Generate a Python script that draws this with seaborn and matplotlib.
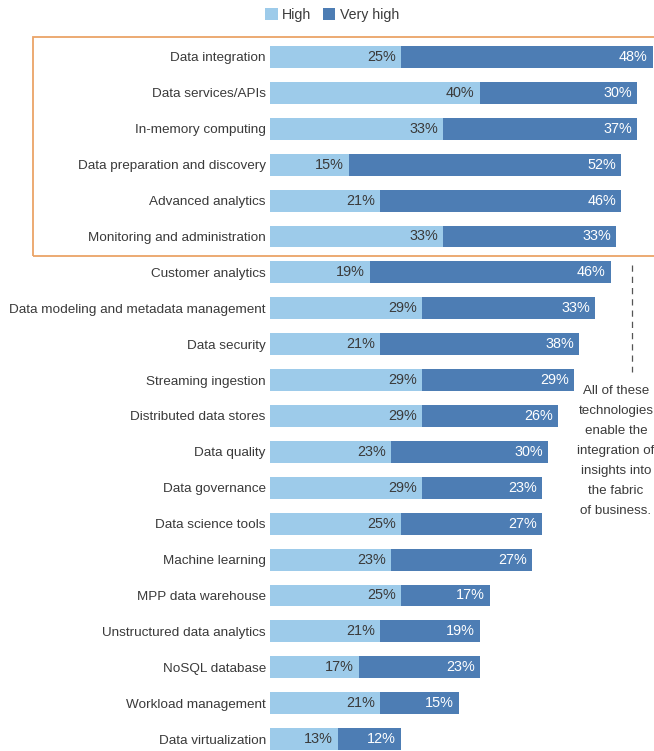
import matplotlib
matplotlib.use("Agg")
import matplotlib.pyplot as plt
from matplotlib.patches import Rectangle, Patch
from matplotlib.lines import Line2D
import seaborn as sns
import pandas as pd

categories = [
    "Data integration", "Data services/APIs", "In-memory computing",
    "Data preparation and discovery", "Advanced analytics",
    "Monitoring and administration", "Customer analytics",
    "Data modeling and metadata management", "Data security",
    "Streaming ingestion", "Distributed data stores", "Data quality",
    "Data governance", "Data science tools", "Machine learning",
    "MPP data warehouse", "Unstructured data analytics", "NoSQL database",
    "Workload management", "Data virtualization",
]
high = [25, 40, 33, 15, 21, 33, 19, 29, 21, 29, 29, 23, 29, 25, 23, 25, 21, 17, 21, 13]
very_high = [48, 30, 37, 52, 46, 33, 46, 33, 38, 29, 26, 30, 23, 27, 27, 17, 19, 23, 15, 12]
series_names = ["High", "Very high"]
note = "All of these\ntechnologies\nenable the\nintegration of\ninsights into\nthe fabric\nof business."

LIGHT = "#9dcbea"
DARK = "#4d7db4"
TEXT = "#3a3a3a"
ORANGE = "#eba467"

sns.set_theme(style="white")
plt.rcParams["font.family"] = ["Liberation Sans Narrow", "Liberation Sans", "DejaVu Sans"]

df = pd.DataFrame({"category": categories, "high": high, "very_high": very_high})
df["total"] = df["high"] + df["very_high"]

W, H = 654, 751
fig = plt.figure(figsize=(W / 100, H / 100), dpi=100)

# axes: bars start at x=270 px; 20 rows spaced ~35.9 px, first centre at 57 px
left_px, right_px = 270, 270 + 73 * 5.24
top_px = 57 - 35.9 / 2
bot_px = top_px + 35.9 * 20
ax = fig.add_axes([left_px / W, (H - bot_px) / H, (right_px - left_px) / W, (bot_px - top_px) / H])

sns.barplot(data=df, y="category", x="total", color=DARK, orient="h",
            width=0.61, ax=ax, saturation=1, linewidth=0)
sns.barplot(data=df, y="category", x="high", color=LIGHT, orient="h",
            width=0.61, ax=ax, saturation=1, linewidth=0)

ax.set_xlim(0, 73)
ax.set_ylim(len(categories) - 0.5, -0.5)
ax.set_xlabel("")
ax.set_ylabel("")
ax.set_xticks([])
for s in ax.spines.values():
    s.set_visible(False)
ax.tick_params(axis="y", length=0, pad=3, labelsize=9.7, labelcolor=TEXT)

for i, (h, v) in enumerate(zip(high, very_high)):
    ax.annotate(f"{h}%", (h, i), xytext=(-5, 0), textcoords="offset pixels",
                ha="right", va="center", fontsize=10.4, color=TEXT)
    ax.annotate(f"{v}%", (h + v, i), xytext=(-5, 0), textcoords="offset pixels",
                ha="right", va="center", fontsize=10.4, color="white")

# legend
handles = [Patch(facecolor=LIGHT, edgecolor="none", label=series_names[0]),
           Patch(facecolor=DARK, edgecolor="none", label=series_names[1])]
fig.legend(handles=handles, loc="center", bbox_to_anchor=(332 / W, 1 - 15 / H),
           ncol=2, frameon=False, fontsize=10.2, handlelength=0.9, handleheight=0.9,
           handletextpad=0.3, columnspacing=0.8, labelcolor=TEXT)

# highlight box around the top six technologies
fig.add_artist(Rectangle((33 / W, 1 - 256 / H), 640 / W, 219 / H, transform=fig.transFigure,
                         fill=False, edgecolor=ORANGE, linewidth=1.3))

# dashed guide and note
fig.add_artist(Line2D([632 / W, 632 / W], [1 - 265 / H, 1 - 372 / H], transform=fig.transFigure,
                      color="#555555", linewidth=0.9, linestyle=(0, (5, 4))))
fig.text(616 / W, 1 - 451 / H, note, ha="center", va="center", fontsize=9.6,
         color=TEXT, linespacing=1.9)

fig.savefig("out.png", dpi=100)
